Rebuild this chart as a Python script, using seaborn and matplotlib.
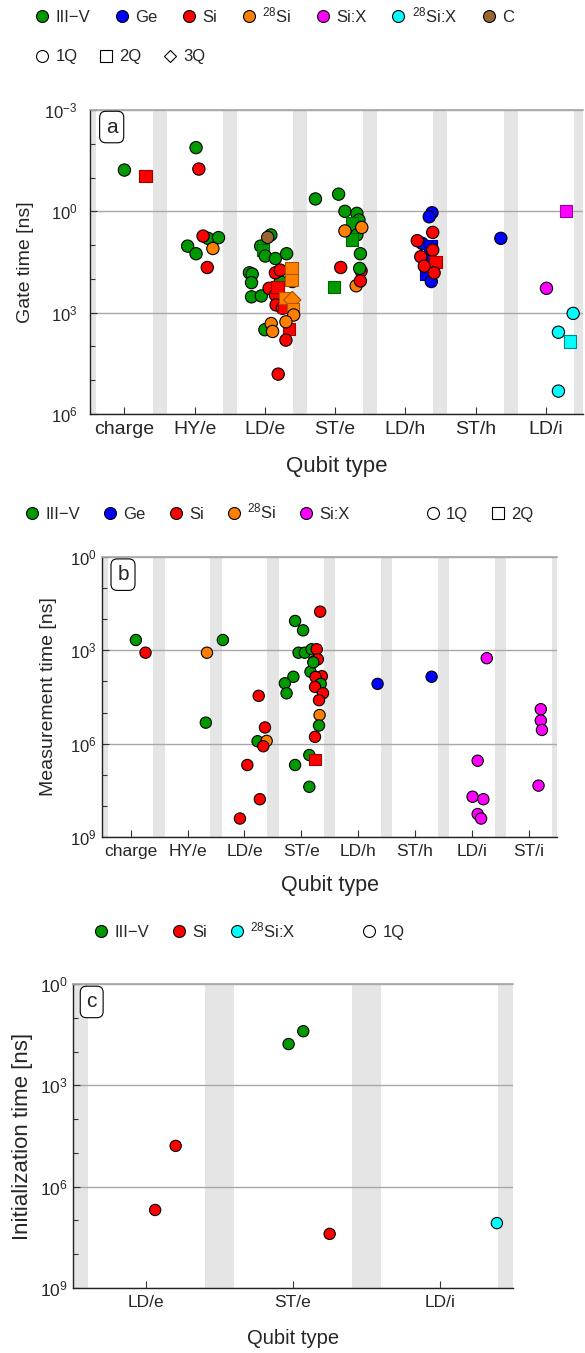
import numpy as np
import pandas as pd
import matplotlib
matplotlib.use("Agg")
import matplotlib.pyplot as plt
from matplotlib.lines import Line2D
from matplotlib.ticker import FixedLocator, NullFormatter
import seaborn as sns

# material colours (face) and darker edge for multi-qubit markers
MAT_COLORS = {"III-V": "#009a00", "Ge": "#0000ff", "Si": "#ff0000", "28Si": "#ff8000",
              "Si:X": "#ff00ff", "28Si:X": "#00ffff", "C": "#996633"}
MAT_EDGES = {"III-V": "#006400", "Ge": "#00008b", "Si": "#a00000", "28Si": "#a85400",
             "Si:X": "#a000a0", "28Si:X": "#008b8b", "C": "#5a3a1a"}
MAT_LABELS = {"III-V": "III\u2212V", "Ge": "Ge", "Si": "Si", "28Si": "$^{28}$Si",
              "Si:X": "Si:X", "28Si:X": "$^{28}$Si:X", "C": "C"}
Q_MARKERS = {"1Q": "o", "2Q": "s", "3Q": "D"}
BAND = "#e5e5e5"

# ---- panel a: gate time ----
GATE_TYPES = ["charge", "HY/e", "LD/e", "ST/e", "LD/h", "ST/h", "LD/i"]
GATE_CAT = (["charge"] * 2 + ["HY/e"] * 9 + ["LD/e"] * 35 + ["ST/e"] * 17
            + ["LD/h"] * 14 + ["ST/h"] + ["LD/i"] * 6)
GATE_MAT = ["III-V", "Si",
            "III-V", "Si", "III-V", "III-V", "III-V", "III-V", "Si", "28Si", "Si",
            "III-V", "III-V", "III-V", "III-V", "III-V", "III-V", "III-V", "III-V", "III-V",
            "III-V", "III-V", "III-V", "III-V", "C",
            "Si", "Si", "Si", "Si", "Si", "Si", "Si", "Si", "Si", "Si", "Si",
            "28Si", "28Si", "28Si", "28Si", "28Si", "28Si", "28Si", "28Si", "28Si", "28Si",
            "III-V", "III-V", "III-V", "III-V", "III-V", "III-V", "III-V", "III-V", "III-V",
            "III-V", "28Si", "28Si", "28Si", "Si", "III-V", "Si", "Si",
            "Ge", "Ge", "Ge", "Ge", "Ge", "Ge", "Ge", "Si", "Si", "Si", "Si", "Si", "Si", "Si",
            "Ge",
            "Si:X", "Si:X", "28Si:X", "28Si:X", "28Si:X", "28Si:X"]
GATE_Q = ["1Q", "2Q",
          "1Q", "1Q", "1Q", "1Q", "1Q", "1Q", "1Q", "1Q", "1Q",
          "1Q", "1Q", "2Q", "1Q", "1Q", "1Q", "1Q", "1Q", "1Q", "1Q", "1Q", "1Q", "1Q", "1Q",
          "1Q", "1Q", "1Q", "1Q", "2Q", "1Q", "1Q", "2Q", "2Q", "1Q", "1Q",
          "2Q", "1Q", "2Q", "2Q", "3Q", "2Q", "1Q", "1Q", "1Q", "1Q",
          "1Q", "1Q", "1Q", "1Q", "1Q", "2Q", "1Q", "2Q", "1Q",
          "2Q", "1Q", "1Q", "1Q", "1Q", "1Q", "1Q", "1Q",
          "1Q", "1Q", "1Q", "2Q", "1Q", "2Q", "1Q", "1Q", "1Q", "1Q", "1Q", "2Q", "1Q", "1Q",
          "1Q",
          "2Q", "1Q", "1Q", "1Q", "2Q", "1Q"]
GATE_JIT = [0.00, 0.30,
            0.02, 0.06, 0.19, 0.34, -0.10, 0.02, 0.12, 0.26, 0.18,
            0.085, -0.06, -0.03, 0.005, 0.15, 0.31, -0.22, -0.18, -0.19, -0.19, -0.05, 0.22,
            0.00, 0.04,
            0.15, 0.22, 0.06, 0.15, 0.18, 0.16, 0.25, 0.27, 0.34, 0.30, 0.19,
            0.38, 0.39, 0.38, 0.29, 0.39, 0.40, 0.41, 0.09, 0.11, 0.30,
            -0.28, 0.05, 0.14, 0.31, 0.34, 0.24, 0.31, 0.24, 0.36,
            -0.02, 0.38, 0.14, 0.30, 0.37, 0.35, 0.08, 0.36,
            0.38, 0.34, 0.24, 0.36, 0.29, 0.30, 0.37, 0.39, 0.17, 0.39, 0.22, 0.43, 0.27, 0.41,
            0.36,
            0.29, 0.01, 0.39, 0.18, 0.35, 0.18]
GATE_NS = [0.06, 0.09,
           0.013, 0.056, 6.3, 6.0, 10.7, 18, 5.4, 12.6, 46,
           5.0, 10.7, 13.8, 21, 25, 18, 66, 72, 129, 340, 320, 120, 3200, 5.9,
           66, 55, 190, 300, 170, 590, 740, 660, 3100, 6500, 66000,
           49, 120, 107, 370, 420, 790, 1170, 2100, 3600, 1860,
           0.43, 0.31, 1.0, 1.15, 1.8, 2.3, 5.0, 6.8, 18,
           178, 3.0, 3.8, 160, 58, 49, 46, 115,
           1.1, 1.45, 8.9, 11, 28, 69, 120, 4.2, 7.4, 14, 22, 31, 42, 66,
           6.3,
           1.0, 190, 1050, 3800, 7200, 210000]

# ---- panel b: measurement time ----
MEAS_TYPES = ["charge", "HY/e", "LD/e", "ST/e", "LD/h", "ST/h", "LD/i", "ST/i"]
MEAS_CAT = (["charge"] * 2 + ["HY/e"] * 2 + ["LD/e"] * 9 + ["ST/e"] * 27
            + ["LD/h"] + ["ST/h"] + ["LD/i"] * 6 + ["ST/i"] * 4)
MEAS_MAT = ["III-V", "Si",
            "28Si", "III-V",
            "III-V", "Si", "Si", "III-V", "28Si", "Si", "Si", "Si", "Si",
            "III-V", "III-V", "III-V", "III-V", "III-V", "III-V", "III-V", "III-V", "III-V",
            "III-V", "III-V", "III-V", "III-V",
            "Si", "Si", "Si", "III-V", "Si", "Si", "III-V", "Si", "Si", "Si", "28Si", "III-V",
            "Si", "Si",
            "Ge", "Ge",
            "Si:X", "Si:X", "Si:X", "Si:X", "Si:X", "Si:X",
            "Si:X", "Si:X", "Si:X", "Si:X"]
MEAS_Q = ["1Q"] * 39 + ["2Q"] + ["1Q"] * 12
MEAS_JIT = [0.09, 0.26,
            0.34, 0.32,
            -0.38, 0.25, 0.36, 0.23, 0.39, 0.33, 0.05, 0.27, -0.08,
            -0.11, 0.03, -0.05, 0.06, 0.18, 0.22, 0.16, -0.14, -0.29, -0.26, 0.14, -0.11, 0.14,
            0.33, 0.27, 0.29, 0.21, 0.36, 0.25, 0.34, 0.24, 0.38, 0.31, 0.32, 0.31,
            0.24, 0.24,
            0.34, 0.29,
            0.26, 0.10, 0.01, 0.20, 0.10, 0.16,
            0.21, 0.21, 0.23, 0.17]
MEAS_NS = [470, 1200,
           1200, 210000,
           470, 29000, 300000, 830000, 810000, 1.2e6, 4.8e6, 6.0e7, 2.5e8,
           115, 230, 1200, 1200, 930, 2300, 4900, 7100, 11500, 24000, 2.3e6, 4.8e6, 2.4e7,
           58, 930, 1950, 2450, 6800, 7200, 12000, 15000, 24000, 40000, 120000, 260000,
           600000, 3.2e6,
           12000, 7100,
           1800, 3.5e6, 5.0e7, 6.0e7, 1.8e8, 2.5e8,
           78000, 180000, 360000, 2.2e7]

# ---- panel c: initialization time ----
INIT_TYPES = ["LD/e", "ST/e", "LD/i"]
INIT_CAT = ["LD/e", "LD/e", "ST/e", "ST/e", "ST/e", "LD/i"]
INIT_MAT = ["Si", "Si", "III-V", "III-V", "Si", "28Si:X"]
INIT_Q = ["1Q"] * 6
INIT_JIT = [0.06, 0.20, -0.03, 0.07, 0.25, 0.39]
INIT_NS = [4.9e6, 62000, 60, 25, 2.5e7, 1.2e7]


def mat_handle(m, ms):
    return Line2D([], [], ls="", marker="o", markersize=ms, markerfacecolor=MAT_COLORS[m],
                  markeredgecolor="black", markeredgewidth=0.8)


def q_handle(q, ms):
    return Line2D([], [], ls="", marker=Q_MARKERS[q], markersize=ms * (0.75 if q == "3Q" else 1),
                  markerfacecolor="white", markeredgecolor="black", markeredgewidth=0.8)


def blank_handle():
    return Line2D([], [], ls="", marker="")


def add_legend(fig, handles, labels, x, y, fs=12, colsp=1.3):
    fig.legend(handles, labels, loc="center left", bbox_to_anchor=(x, y), ncol=len(handles),
               frameon=False, fontsize=fs, handlelength=1.0, handletextpad=0.3,
               columnspacing=colsp, borderpad=0, borderaxespad=0)


def draw_panel(ax, types, cats, jit, times, mats, qubits, size, xlim, ylim, yticks, letter,
               letter_xy, xfs, yfs, lab_fs, ylab, ypad, xlabpad):
    df = pd.DataFrame({"type": cats, "jit": jit, "time": times,
                       "material": mats, "qubits": qubits})
    df["x"] = df["type"].map({t: i for i, t in enumerate(types)}) + df["jit"]
    edges = ["black" if q == "1Q" else MAT_EDGES[m] for m, q in zip(df["material"], df["qubits"])]

    for k in range(-1, len(types)):
        ax.axvspan(k + 0.4, k + 0.6, color=BAND, lw=0, zorder=0)

    sns.scatterplot(data=df, x="x", y="time", hue="material", palette=MAT_COLORS,
                    style="qubits", markers=Q_MARKERS, s=size, edgecolor=edges,
                    linewidth=0.8, legend=False, ax=ax, zorder=3)

    ax.set_yscale("log")
    ax.set_ylim(*ylim)
    ax.set_xlim(*xlim)
    ax.set_yticks(yticks)
    ax.yaxis.set_minor_locator(FixedLocator(10.0 ** np.arange(np.log10(ylim[1]), np.log10(ylim[0]) + 1)))
    ax.yaxis.set_minor_formatter(NullFormatter())
    ax.set_xticks(range(len(types)), types)
    ax.grid(axis="y", which="major", color="#a8a8a8", lw=1.0)
    ax.grid(axis="x", visible=False)
    ax.set_axisbelow(True)

    ax.tick_params(axis="x", which="major", direction="in", length=5, width=0.8,
                   labelsize=xfs, pad=5, color="#333333")
    ax.tick_params(axis="y", which="major", direction="in", length=5, width=0.8,
                   labelsize=yfs, pad=ypad, color="#333333")
    ax.tick_params(axis="y", which="minor", direction="in", length=3.5, width=0.8, color="#333333")
    ax.tick_params(axis="x", which="minor", bottom=False)

    for s in ["left", "bottom"]:
        ax.spines[s].set_color("#222222")
        ax.spines[s].set_linewidth(1.0)
    ax.spines["top"].set_color("#a8a8a8")
    ax.spines["right"].set_visible(False)

    ax.set_xlabel("Qubit type", fontsize=lab_fs, labelpad=xlabpad)
    ax.set_ylabel(ylab, fontsize=lab_fs)

    ax.text(letter_xy[0], letter_xy[1], letter, transform=ax.transAxes, fontsize=15,
            ha="center", va="center", zorder=5,
            bbox=dict(boxstyle="round,pad=0.3", fc="white", ec="black", lw=0.8))


if __name__ == "__main__":
    sns.set_theme(style="ticks")
    plt.rcParams["font.family"] = ["Liberation Sans", "DejaVu Sans"]
    plt.rcParams.update({"mathtext.fontset": "custom", "mathtext.rm": "Liberation Sans",
                         "mathtext.it": "Liberation Sans:italic", "mathtext.default": "regular",
                         "axes.unicode_minus": True})

    W, H = 585, 1353
    fig = plt.figure(figsize=(W / 100, H / 100), dpi=100)

    ax_a = fig.add_axes([90 / W, 1 - 414 / H, 493 / W, 304 / H])
    ax_b = fig.add_axes([102.3 / W, 1 - 837.3 / H, 455 / W, 280.6 / H])
    ax_c = fig.add_axes([73 / W, 1 - 1288 / H, 440 / W, 304 / H])

    draw_panel(ax_a, GATE_TYPES, GATE_CAT, GATE_JIT, GATE_NS, GATE_MAT, GATE_Q, 78,
               (-0.49, 6.53), (1e6, 1e-3), [1e-3, 1e0, 1e3, 1e6], "a", (0.044, 0.944),
               14, 12, 14, "Gate time [ns]", 9, 13)
    ax_a.xaxis.label.set_size(16)

    draw_panel(ax_b, MEAS_TYPES, MEAS_CAT, MEAS_JIT, MEAS_NS, MEAS_MAT, MEAS_Q, 66,
               (-0.5, 7.5), (1e9, 1e0), [1e0, 1e3, 1e6, 1e9], "b", (0.0455, 0.936),
               12.5, 12, 14, "Measurement time [ns]", 4, 11)
    ax_b.xaxis.label.set_size(15.5)

    draw_panel(ax_c, INIT_TYPES, INIT_CAT, INIT_JIT, INIT_NS, INIT_MAT, INIT_Q, 66,
               (-0.5, 2.5), (1e9, 1e0), [1e0, 1e3, 1e6, 1e9], "c", (0.0425, 0.941),
               12.5, 12.5, 14.5, "Initialization time [ns]", 4, 14)
    ax_c.yaxis.label.set_size(16)

    ax_a.yaxis.set_label_coords(-0.113, 0.5)
    ax_b.yaxis.set_label_coords(-0.10, 0.5)
    ax_c.yaxis.set_label_coords(-0.09, 0.5)

    # legends
    mats_a = ["III-V", "Ge", "Si", "28Si", "Si:X", "28Si:X", "C"]
    add_legend(fig, [mat_handle(m, 8.6) for m in mats_a], [MAT_LABELS[m] for m in mats_a],
               (42 - 8.3) / W, 1 - 15 / H, colsp=1.4)
    qs_a = ["1Q", "2Q", "3Q"]
    add_legend(fig, [q_handle(q, 8.6) for q in qs_a], qs_a, (42 - 8.3) / W, 1 - 57 / H,
               colsp=1.2)

    mats_b = ["III-V", "Ge", "Si", "28Si", "Si:X"]
    add_legend(fig, [mat_handle(m, 8.6) for m in mats_b] + [blank_handle()]
               + [q_handle(q, 8.6) for q in ["1Q", "2Q"]],
               [MAT_LABELS[m] for m in mats_b] + ["  "] + ["1Q", "2Q"],
               (32 - 8.3) / W, 1 - 511.7 / H, colsp=1.3)

    mats_c = ["III-V", "Si", "28Si:X"]
    add_legend(fig, [mat_handle(m, 8.6) for m in mats_c] + [blank_handle(), q_handle("1Q", 8.6)],
               [MAT_LABELS[m] for m in mats_c] + ["", "1Q"],
               (100.7 - 8.3) / W, 1 - 930 / H)

    fig.savefig("out.png", dpi=100, facecolor="white")
    plt.close(fig)
